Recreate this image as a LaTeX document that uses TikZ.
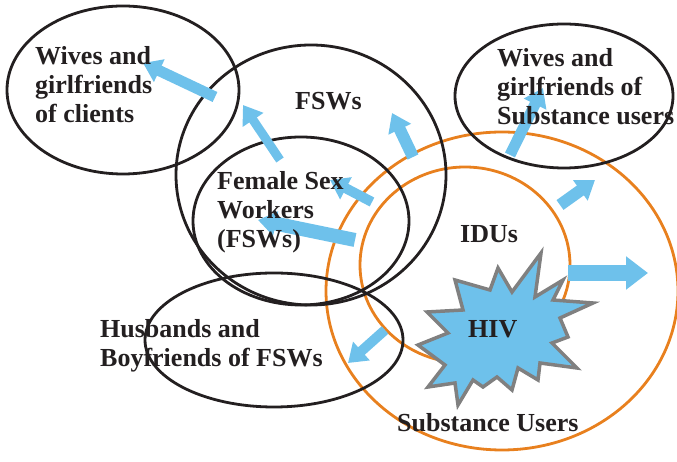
\documentclass[tikz,border=0pt]{standalone}
\usepackage{fontspec}
\setmainfont{Liberation Serif}
\usetikzlibrary{shapes.geometric,arrows.meta}
\definecolor{flowblue}{RGB}{110,193,235}
\definecolor{ringorange}{RGB}{232,128,30}
\definecolor{inkblack}{RGB}{35,31,32}
\definecolor{stargray}{RGB}{128,128,128}

\begin{document}
\begin{tikzpicture}[x=1pt,y=1pt,
  popcircle/.style={draw=inkblack,line width=2.8pt,ellipse,inner sep=0pt},
  userring/.style={draw=ringorange,line width=2.8pt,ellipse,inner sep=0pt},
  grouptext/.style={font=\bfseries\fontsize{26}{29}\selectfont,text=inkblack,align=left,anchor=base west,inner sep=0pt},
  flow/.style={draw=flowblue,line width=11pt,-{Triangle[width=24pt,length=18pt]}},
  bigflow/.style={draw=flowblue,line width=16pt,-{Triangle[width=32pt,length=22pt]}}]
\useasboundingbox (0,0) rectangle (677,462);
\node[userring,minimum width=352pt,minimum height=318pt] (users) at (502,171) {};
\node[userring,minimum width=210pt,minimum height=196pt] (idus) at (465,197) {};
\node[popcircle,minimum width=232pt,minimum height=168pt] (clientwives) at (123,372) {};
\node[popcircle,minimum width=270pt,minimum height=260pt] (fsws) at (311,287) {};
\node[popcircle,minimum width=216pt,minimum height=168pt] (workers) at (301,241) {};
\node[popcircle,minimum width=218pt,minimum height=144pt] (userwives) at (564,366) {};
\node[popcircle,minimum width=258pt,minimum height=134pt] (husbands) at (274,122) {};
\draw[draw=stargray,fill=flowblue,line width=3.5pt,line join=miter]
  (541,209) -- (535,165) -- (563,182) -- (553,162) -- (593,159) -- (560,144)
  -- (568,125) -- (552,119) -- (577,94) -- (540,99) -- (538,82) -- (518,94)
  -- (512,72) -- (497,85) -- (483,75) -- (473,82) -- (458,57) -- (455,79)
  -- (428,75) -- (445,97) -- (418,117) -- (448,129) -- (427,150) -- (463,152)
  -- (455,182) -- (490,172) -- (498,194) -- (512,170) -- cycle;
\coordinate (a1) at (215,365); \coordinate (b1) at (143,399);
\coordinate (a2) at (280,302); \coordinate (b2) at (243,357);
\coordinate (a3) at (413,305); \coordinate (b3) at (392,349);
\coordinate (a4) at (510,307); \coordinate (b4) at (543,374);
\coordinate (a5) at (560,257); \coordinate (b5) at (595,282);
\coordinate (a6) at (568,189); \coordinate (b6) at (648,189);
\coordinate (a7) at (385,132); \coordinate (b7) at (348,99);
\coordinate (a8) at (372,260); \coordinate (b8) at (330,282);
\coordinate (a9) at (355,222); \coordinate (b9) at (258,242);
\draw[flow] (a1) -- (b1);
\draw[flow,line width=9pt] (a2) -- (b2);
\draw[flow,line width=12pt] (a3) -- (b3);
\draw[flow] (a4) -- (b4);
\draw[flow,line width=12pt] (a5) -- (b5);
\draw[bigflow] (a6) -- (b6);
\draw[flow,line width=10pt] (a7) -- (b7);
\draw[flow,line width=10pt] (a8) -- (b8);
\draw[flow,line width=14pt] (a9) -- (b9);
\node[grouptext] (clienttext) at (35,339) {Wives and\\girlfriends\\of clients};
\node[grouptext] (fswtext) at (295,352) {FSWs};
\node[grouptext] (userwivestext) at (497,337) {Wives and\\girlfriends of\\Substance users};
\node[grouptext] (workertext) at (217,214) {Female Sex\\Workers\\(FSWs)};
\node[grouptext] (idutext) at (460,219) {IDUs};
\node[grouptext] (hivtext) at (468,124) {HIV};
\node[grouptext] (usertext) at (397,30) {Substance Users};
\node[grouptext] (husbandtext) at (100,95) {Husbands and\\Boyfriends of FSWs};
\end{tikzpicture}
\end{document}
